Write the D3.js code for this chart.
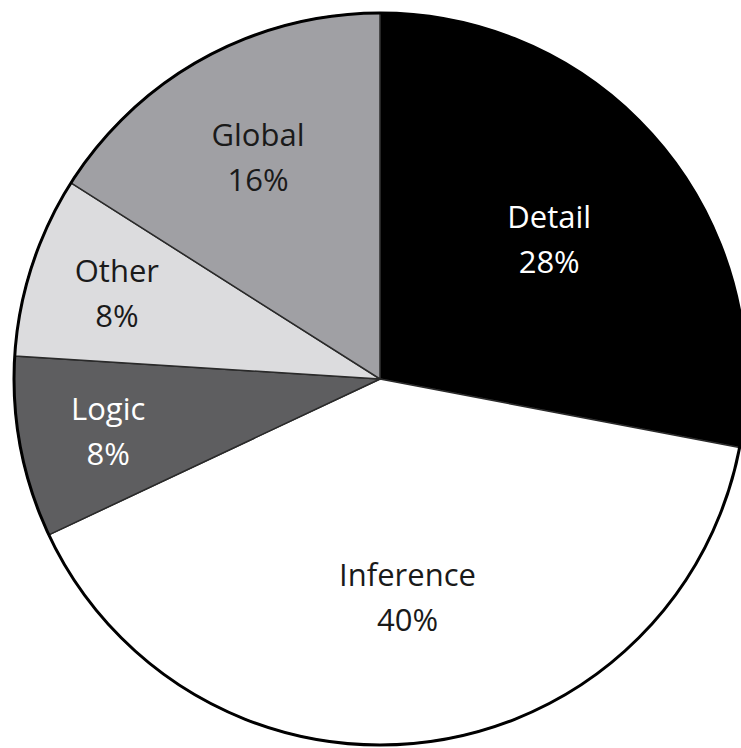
<!DOCTYPE html>
<html><head><meta charset="utf-8">
<script src="https://cdn.jsdelivr.net/npm/d3@7"></script>
<style>html,body{margin:0;padding:0;background:#fff;overflow:hidden}</style>
</head><body>
<svg id="chart" width="741" height="748"></svg>
<script>
const categories = ["Detail", "Inference", "Logic", "Other", "Global"];
const values = [28, 40, 8, 8, 16];
const fills = ["#000000", "#ffffff", "#5e5e60", "#dcdcde", "#a0a0a4"];
const textColors = ["#ffffff", "#1a1a1a", "#ffffff", "#1a1a1a", "#1a1a1a"];

const svg = d3.select("#chart");
const cx = 380, cy = 379, r = 366;
const g = svg.append("g").attr("transform", `translate(${cx},${cy})`);

const data = categories.map((c, i) => ({cat: c, value: values[i], i}));
const pie = d3.pie().value(d => d.value).sort(null);
const arcs = pie(data);
const arc = d3.arc().innerRadius(0).outerRadius(r);
const total = d3.sum(values);

g.selectAll("path.slice").data(arcs).join("path")
  .attr("class", "slice")
  .attr("d", arc)
  .attr("fill", d => fills[d.data.i])
  .attr("stroke", "#2a2a2a")
  .attr("stroke-width", 1.5);

g.append("circle").attr("r", r).attr("fill", "none")
  .attr("stroke", "#000").attr("stroke-width", 3);

function labelR(d) {
  const share = d.data.value / total;
  return share >= 0.25 ? r * 0.6 : r * (0.82 - 0.8 * share);
}
const labels = g.selectAll("text.lbl").data(arcs).join("text")
  .attr("class", "lbl")
  .attr("transform", d => {
    const lr = labelR(d);
    const a = d3.arc().innerRadius(lr).outerRadius(lr);
    const [x, y] = a.centroid(d);
    return `translate(${x},${y})`;
  })
  .attr("text-anchor", "middle")
  .attr("font-family", "'Open Sans', sans-serif")
  .attr("font-size", 31)
  .attr("fill", d => textColors[d.data.i]);
labels.append("tspan").attr("x", 0).attr("y", -11).text(d => d.data.cat);
labels.append("tspan").attr("x", 0).attr("y", 34).text(d => d.data.value + "%");
</script>
</body></html>
